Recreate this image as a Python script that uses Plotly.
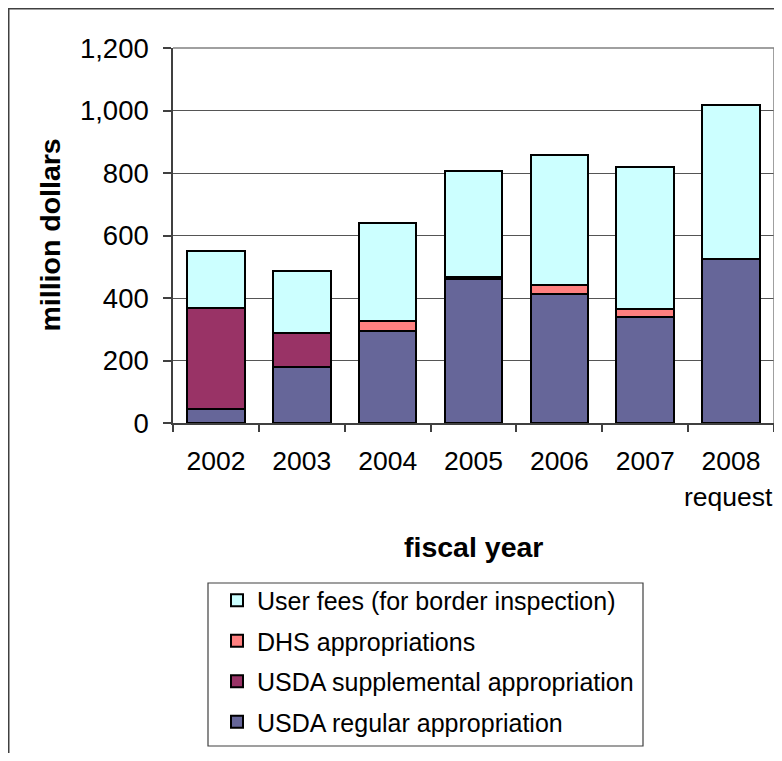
import plotly.graph_objects as go

years = ["2002", "2003", "2004", "2005", "2006", "2007", "2008"]
year_notes = ["", "", "", "", "", "", "request"]
usda_regular = [44, 179, 293, 460, 414, 338, 524]
usda_supplemental = [325, 108, 0, 0, 0, 0, 0]
dhs_appropriations = [0, 0, 32, 7, 28, 27, 0]
user_fees = [180, 200, 315, 339, 416, 454, 494]

series_names = [
    "USDA regular appropriation",
    "USDA supplemental appropriation",
    "DHS appropriations",
    "User fees (for border inspection)",
]
series_values = [usda_regular, usda_supplemental, dhs_appropriations, user_fees]
series_colors = ["#666699", "#993366", "#FF8080", "#CCFFFF"]

FONT = "Arial, Liberation Sans, sans-serif"

# page body adds an 8px offset; geometry below is in window pixels
OFF = 8
W, H = 766, 745
L, R, T, B = 173, 774, 48, 423  # plot area in window pixels


def px_x(p):
    return (p - L) / (R - L)


def px_y(p):
    return (B - p) / (B - T)


fig = go.Figure()
n = len(series_names)
for i, (name, vals, col) in enumerate(zip(series_names, series_values, series_colors)):
    fig.add_trace(go.Bar(
        x=years, y=vals, name=name,
        marker=dict(color=col, line=dict(color="black", width=2)),
        legendgroup=f"g{i}", legendrank=n - i,
    ))

annotations = [
    dict(text="<b>million dollars</b>", textangle=-90, x=px_x(49), y=0.5,
         xref="paper", yref="paper", xanchor="center", yanchor="middle",
         showarrow=False, font=dict(size=28.5, family=FONT, color="black")),
    dict(text="<b>fiscal year</b>", x=0.5, y=px_y(547),
         xref="paper", yref="paper", xanchor="center", yanchor="middle",
         showarrow=False, font=dict(size=28.5, family=FONT, color="black")),
]
for idx, note in enumerate(year_notes):
    if note:
        annotations.append(dict(
            text=note, x=idx, xref="x", y=px_y(497), yref="paper",
            xanchor="center", yanchor="middle", xshift=-3, showarrow=False,
            font=dict(size=26.5, family=FONT, color="black")))

fig.update_layout(
    width=W, height=H,
    margin=dict(l=L - OFF, r=W - (R - OFF), t=T - OFF, b=H - (B - OFF), autoexpand=False),
    paper_bgcolor="white", plot_bgcolor="white",
    barmode="stack", bargap=0.33,
    font=dict(family=FONT, color="black", size=27),
    showlegend=True,
    legend=dict(
        x=px_x(217), y=px_y(577.5), xanchor="left", yanchor="top",
        traceorder="grouped", tracegroupgap=5,
        font=dict(family=FONT, size=25, color="black"),
        bgcolor="rgba(0,0,0,0)", borderwidth=0,
    ),
    xaxis=dict(
        type="category", range=[-0.5, len(years) - 0.5],
        showgrid=False, showline=True, linecolor="#404040", linewidth=1.5,
        ticks="outside", ticklen=7, tickcolor="#404040", tickwidth=1.5,
        tickson="boundaries", tickangle=0, ticklabelstandoff=13,
        tickfont=dict(size=26.5, family=FONT, color="black"),
        fixedrange=True,
    ),
    yaxis=dict(
        range=[0, 1200], dtick=200, tickformat=",d",
        showgrid=True, gridcolor="#555555", gridwidth=1,
        showline=True, linecolor="#404040", linewidth=1.5,
        ticks="outside", ticklen=8, tickcolor="#404040", tickwidth=1.5,
        ticklabelstandoff=9,
        tickfont=dict(size=27.5, family=FONT, color="black"),
        zeroline=False, fixedrange=True,
    ),
    annotations=annotations,
    shapes=[
        # outer chart frame
        dict(type="rect", xref="paper", yref="paper",
             x0=px_x(OFF + 0.75), x1=px_x(820), y0=px_y(OFF + 0.75), y1=px_y(820),
             line=dict(color="#404040", width=1.5), layer="below"),
        # plot area top and right border
        dict(type="line", xref="paper", yref="paper", x0=0, x1=1, y0=1, y1=1,
             line=dict(color="#808080", width=1.5)),
        dict(type="line", xref="paper", yref="paper", x0=1, x1=1, y0=0, y1=1,
             line=dict(color="#808080", width=1.5)),
        # legend box
        dict(type="rect", xref="paper", yref="paper",
             x0=px_x(208), x1=px_x(643), y0=px_y(583), y1=px_y(746),
             line=dict(color="#404040", width=1.2)),
    ],
)

fig.write_html("out.html")
